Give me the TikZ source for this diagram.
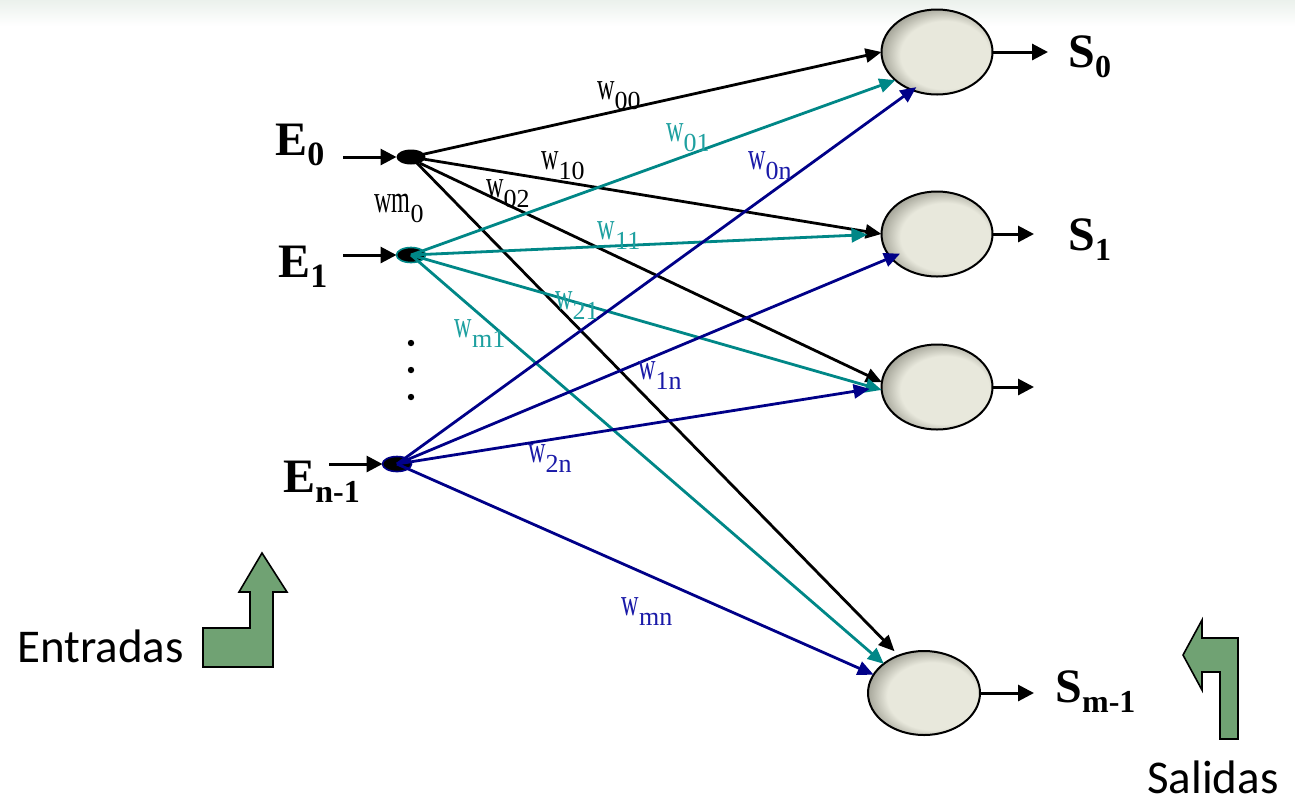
\documentclass[tikz,border=0pt]{standalone}
\usepackage{fontspec}
\setmainfont{Liberation Serif}
\newfontfamily\calib{Carlito}
\usetikzlibrary{shapes.geometric,arrows.meta}
\definecolor{tealL}{HTML}{008787}
\definecolor{tealT}{HTML}{1EA0A0}
\definecolor{navyL}{HTML}{000088}
\definecolor{navyT}{HTML}{1A1AA8}
\definecolor{nfill}{HTML}{E8E8DC}
\definecolor{ndark}{HTML}{8A8A7E}
\definecolor{garrow}{HTML}{70A273}
\definecolor{bandc}{HTML}{EBF1EC}
\pgfdeclareradialshading{neuronshade}{\pgfpoint{6bp}{-3bp}}{color(0bp)=(nfill); color(20bp)=(nfill); color(31bp)=(ndark); color(50bp)=(ndark)}
\newcommand\wlab[2]{\fontsize{19.5}{19.5}\selectfont\scalebox{0.62}[1]{#1}\raisebox{-5pt}{\fontsize{13}{13}\selectfont #2}}
\newcommand\biglab[3]{\fontsize{24}{24}\selectfont\bfseries #1\raisebox{-5pt}{\fontsize{#3}{#3}\selectfont #2}}
\tikzset{
  neuron/.style={ellipse, draw=black, line width=1pt, shading=neuronshade, minimum width=55.5pt, minimum height=42.5pt, inner sep=0pt, outer sep=0pt},
  indot/.style={ellipse, fill=black, minimum width=14.5pt, minimum height=7.5pt, inner sep=0pt, outer sep=0pt},
  conn/.style={line width=1.4pt, -{Triangle[length=8pt,width=7pt]}},
  blk/.style={conn, draw=black},
  tel/.style={conn, draw=tealL, -{Triangle[length=8pt,width=7pt,fill=tealL]}},
  nav/.style={conn, draw=navyL, -{Triangle[length=8pt,width=7pt,fill=navyL]}},
  ioarrow/.style={line width=1.5pt, -{Triangle[length=8pt,width=8pt]}},
  wlb/.style={inner sep=0pt},
  gblock/.style={draw=black, line width=0.8pt, fill=garrow}
}
\begin{document}
\begin{tikzpicture}[x=0.5pt,y=-0.5pt]
\useasboundingbox (0,0) rectangle (1295,805);
\fill[white] (0,0) rectangle (1295,805);
\shade[top color=bandc, bottom color=white] (0,0) rectangle (1295,26);

% output neurons
\node[neuron] (S0) at (937,52) {};
\node[neuron] (S1) at (937,234) {};
\node[neuron] (N2) at (937,387) {};
\node[neuron, minimum width=56pt, minimum height=42pt] (Sm) at (924,693) {};

% input dots
\node[indot] (E0) at (411,157) {};
\node[indot, draw=tealL, line width=0.8pt] (E1) at (411,255) {};
\node[indot, draw=navyL, line width=0.8pt] (En) at (397,464) {};

% ellipsis dots
\fill (411,343) circle[radius=3.2];
\fill (411,370) circle[radius=3.2];
\fill (411,397) circle[radius=3.2];

% input arrows
\coordinate (a0) at (343,157);
\coordinate (a1) at (343,255);
\coordinate (an) at (329,464);
\draw[ioarrow] (a0) -- (E0.west);
\draw[ioarrow] (a1) -- (E1.west);
\draw[ioarrow] (an) -- (En.west);

% output arrows
\coordinate (o0) at (1048,52);
\coordinate (o1) at (1034,234);
\coordinate (o2) at (1034,387);
\coordinate (om) at (1034,693);
\draw[ioarrow] (S0.east) -- (o0);
\draw[ioarrow] (S1.east) -- (o1);
\draw[ioarrow] (N2.east) -- (o2);
\draw[ioarrow] (Sm.east) -- (om);

% black connectors
\draw[blk] (E0.center) -- (S0.west);
\draw[blk] (E0.center) -- (S1.west);
\draw[blk] (E0.-35) -- (N2.175);
\draw[blk, shorten >=3pt] (E0.center) -- (Sm.124);

% teal connectors
\draw[tel] (E1.center) -- (S0.214);
\draw[tel, shorten >=7pt] (E1.center) -- (S1.west);
\draw[tel] (E1.center) -- (N2.183);
\draw[tel] (E1.center) -- (Sm.144);

% navy connectors
\draw[nav, shorten >=-2.5pt] (En.center) -- (S0.237);
\draw[nav, shorten >=-5pt] (En.center) -- (S1.207);
\draw[nav, shorten >=6pt] (En.center) -- (N2.west);
\draw[nav] (En.center) -- (Sm.160);

% weight labels
\node[wlb] (l00) at (619,96) {\wlab{w}{00}};
\node[wlb] (l10) at (563,166) {\wlab{w}{10}};
\node[wlb] (l02) at (508,194) {\wlab{w}{02}};
\node[wlb] (lm0) at (399,208) {\wlab{wm}{0}};
\node[wlb, text=tealT] (l01) at (688,138) {\wlab{w}{01}};
\node[wlb, text=tealT] (l11) at (619,236) {\wlab{w}{11}};
\node[wlb, text=tealT] (l21) at (577,306) {\wlab{w}{21}};
\node[wlb, text=tealT] (lm1) at (480,334) {\wlab{w}{m1}};
\node[wlb, text=navyT] (l0n) at (770,166) {\wlab{w}{0n}};
\node[wlb, text=navyT] (l1n) at (660,376) {\wlab{w}{1n}};
\node[wlb, text=navyT] (l2n) at (550,459) {\wlab{w}{2n}};
\node[wlb, text=navyT] (lmn) at (647,612) {\wlab{w}{mn}};

% input / output labels
\node[anchor=base west, inner sep=0pt] (tE0) at (275,155) {\biglab{E}{0}{17}};
\node[anchor=base west, inner sep=0pt] (tE1) at (278,277) {\biglab{E}{1}{17}};
\node[anchor=base west, inner sep=0pt] (tEn) at (283,492) {\biglab{E}{n-1}{16}};
\node[anchor=base west, inner sep=0pt] (tS0) at (1068,67) {\biglab{S}{0}{16}};
\node[anchor=base west, inner sep=0pt] (tS1) at (1068,250) {\biglab{S}{1}{16}};
\node[anchor=base west, inner sep=0pt] (tSm) at (1055,702) {\biglab{S}{m-1}{16}};

% green arrows
\draw[gblock] (203,667) -- (203,628) -- (250,628) -- (250,592) -- (239,592) -- (262,553) -- (287,592) -- (273,592) -- (273,667) -- cycle;
\draw[gblock] (1220,739) -- (1220,672) -- (1202,672) -- (1202,690) -- (1183,655) -- (1202,620) -- (1202,638) -- (1238,638) -- (1238,739) -- cycle;

\node[anchor=base east, inner sep=0pt] (ent) at (184,662) {\calib\fontsize{23.5}{23.5}\selectfont Entradas};
\node[anchor=base, inner sep=0pt] (sal) at (1213,793) {\calib\fontsize{23.5}{23.5}\selectfont Salidas};
\end{tikzpicture}
\end{document}
